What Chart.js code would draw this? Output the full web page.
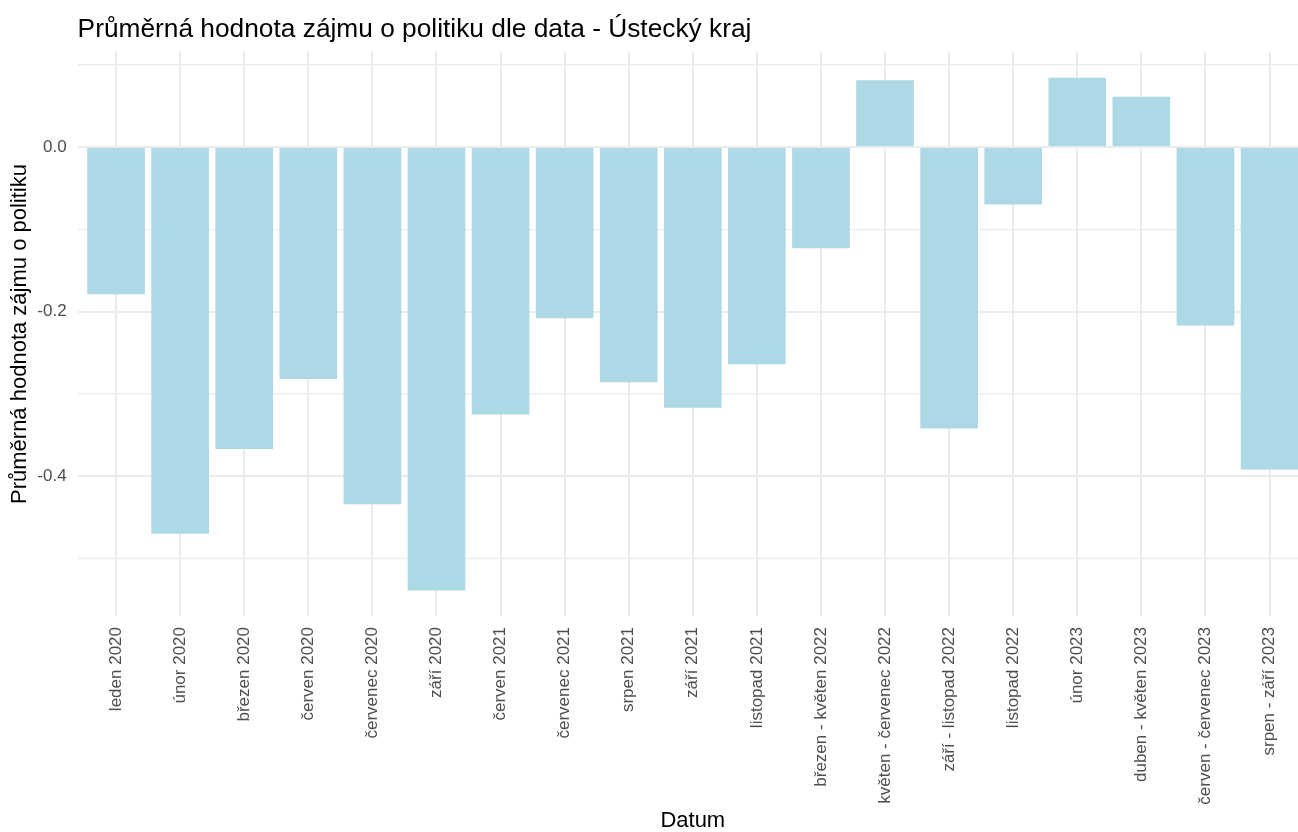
<html>
  <head>
    <meta charset="utf-8">
    <title>Průměrná hodnota zájmu o politiku - Ústecký kraj</title>
    <script src="https://cdn.jsdelivr.net/npm/chart.js@4"></script>
    <style>
      body {
        margin: 0;
        background-color: #ffffff;
      }
      #wrap {
        width: 1298px;
        height: 832px;
        overflow: hidden;
      }
    </style>
  </head>

  <body>
    <div id="wrap">
      <canvas id="bar-chart" width="1308" height="832"></canvas>
    </div>
  </body>

  <script>
    // data
    var labels = ["leden 2020", "únor 2020", "březen 2020", "červen 2020", "červenec 2020", "září 2020",
      "červen 2021", "červenec 2021", "srpen 2021", "září 2021", "listopad 2021",
      "březen - květen 2022", "květen - červenec 2022", "září - listopad 2022", "listopad 2022",
      "únor 2023", "duben - květen 2023", "červen - červenec 2023", "srpen - září 2023"];
    var values = [-0.179, -0.470, -0.367, -0.282, -0.434, -0.539,
      -0.325, -0.208, -0.286, -0.317, -0.264,
      -0.123, 0.081, -0.342, -0.070,
      0.084, 0.061, -0.217, -0.392];
    var yTicks = [-0.5, -0.4, -0.3, -0.2, -0.1, 0.0, 0.1];
    var yTickLabels = ["", "-0.4", "", "-0.2", "", "0.0", ""];

    var titleText = "Průměrná hodnota zájmu o politiku dle data - Ústecký kraj";
    var gridColor = "#ebebeb";

    var points = [];
    var xTicks = [];
    for (i = 0; i < values.length; i++) {
      points.push({x: i + 1, y: values[i]});
      xTicks.push(i + 1);
    }

    function isMajor(v) {
      return Math.round(v * 10) % 2 === 0;
    }

    // title drawn at the left edge of the plot panel, like ggplot
    var plotTitle = {
      id: 'plotTitle',
      afterDraw: function (chart) {
        var ctx = chart.ctx;
        ctx.save();
        ctx.font = "26.3px 'Liberation Sans', Arial, sans-serif";
        ctx.fillStyle = "#000000";
        ctx.textAlign = "left";
        ctx.textBaseline = "alphabetic";
        ctx.fillText(titleText, chart.chartArea.left, 37);
        ctx.restore();
      }
    };

    Chart.defaults.font.family = "'Liberation Sans', Arial, sans-serif";

    new Chart(document.getElementById("bar-chart"), {
      type: 'bar',
      data: {
        datasets: [{
          label: "Průměrná hodnota zájmu o politiku",
          data: points,
          backgroundColor: "#add8e6",
          borderWidth: 0,
          barPercentage: 0.9,
          categoryPercentage: 1.0
        }]
      },
      options: {
        responsive: false,
        animation: false,
        devicePixelRatio: 1,
        layout: {
          padding: {top: 52, left: 0, right: 0, bottom: 0}
        },
        plugins: {
          legend: { display: false },
          title: { display: false },
          tooltip: { enabled: false }
        },
        scales: {
          x: {
            type: 'linear',
            min: 0.4,
            max: 19.6,
            offset: false,
            afterBuildTicks: function (scale) {
              scale.ticks = xTicks.map(function (v) { return {value: v}; });
            },
            afterFit: function (scale) {
              scale.height = 216;
            },
            grid: {
              color: gridColor,
              lineWidth: 2,
              offset: false,
              drawTicks: false
            },
            border: { display: false },
            ticks: {
              autoSkip: false,
              minRotation: 90,
              maxRotation: 90,
              padding: 11,
              color: "#4d4d4d",
              font: { size: 17 },
              callback: function (value) {
                return labels[value - 1];
              }
            },
            title: {
              display: true,
              text: "Datum",
              color: "#000000",
              font: { size: 22, lineHeight: 1 },
              padding: {top: 0, bottom: 0}
            }
          },
          y: {
            min: -0.5699,
            max: 0.1154,
            afterBuildTicks: function (scale) {
              scale.ticks = yTicks.map(function (v) { return {value: v}; });
            },
            afterFit: function (scale) {
              scale.width = 77.6;
            },
            grid: {
              color: gridColor,
              lineWidth: function (c) {
                return isMajor(c.tick.value) ? 2 : 1.2;
              },
              drawTicks: false
            },
            border: { display: false },
            ticks: {
              padding: 11,
              color: "#4d4d4d",
              font: { size: 17 },
              callback: function (value, index) {
                return yTickLabels[index];
              }
            },
            title: {
              display: true,
              text: "Průměrná hodnota zájmu o politiku",
              color: "#000000",
              font: { size: 22 },
              padding: {top: 7, bottom: 0}
            }
          }
        }
      },
      plugins: [plotTitle]
    });
  </script>

</html>
